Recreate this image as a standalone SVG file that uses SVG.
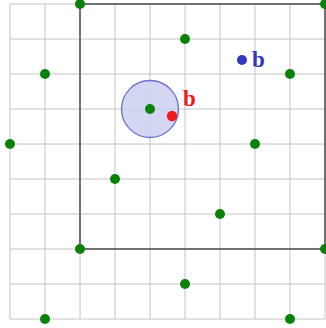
<svg xmlns="http://www.w3.org/2000/svg" width="326" height="328" viewBox="0 0 326 328">
<style>
.grid line{stroke:#c4c4c4;stroke-width:1}
.sq{fill:none;stroke:#555;stroke-width:1.6}
.g{fill:#0a820a}
.lbl{font-family:"Liberation Serif",serif;font-size:23px;font-weight:bold}
</style>
<rect width="326" height="328" fill="#fff"/>
<g class="grid">
<line x1="10" y1="4" x2="10" y2="319"/>
<line x1="45" y1="4" x2="45" y2="319"/>
<line x1="80" y1="4" x2="80" y2="319"/>
<line x1="115" y1="4" x2="115" y2="319"/>
<line x1="150" y1="4" x2="150" y2="319"/>
<line x1="185" y1="4" x2="185" y2="319"/>
<line x1="220" y1="4" x2="220" y2="319"/>
<line x1="255" y1="4" x2="255" y2="319"/>
<line x1="290" y1="4" x2="290" y2="319"/>
<line x1="325" y1="4" x2="325" y2="319"/>
<line x1="10" y1="4" x2="325" y2="4"/>
<line x1="10" y1="39" x2="325" y2="39"/>
<line x1="10" y1="74" x2="325" y2="74"/>
<line x1="10" y1="109" x2="325" y2="109"/>
<line x1="10" y1="144" x2="325" y2="144"/>
<line x1="10" y1="179" x2="325" y2="179"/>
<line x1="10" y1="214" x2="325" y2="214"/>
<line x1="10" y1="249" x2="325" y2="249"/>
<line x1="10" y1="284" x2="325" y2="284"/>
<line x1="10" y1="319" x2="325" y2="319"/>
</g>
<rect id="square" class="sq" x="80" y="4" width="245" height="245"/>
<g id="disk"><circle cx="150" cy="109" r="28.5" fill="#ccd0ee" fill-opacity="0.85" stroke="#6c6cd0" stroke-width="1.3"/></g>
<g id="points">
<circle class="g" cx="80" cy="4" r="5"/>
<circle class="g" cx="325" cy="4" r="5"/>
<circle class="g" cx="185" cy="39" r="5"/>
<circle class="g" cx="45" cy="74" r="5"/>
<circle class="g" cx="290" cy="74" r="5"/>
<circle class="g" cx="150" cy="109" r="5"/>
<circle class="g" cx="10" cy="144" r="5"/>
<circle class="g" cx="255" cy="144" r="5"/>
<circle class="g" cx="115" cy="179" r="5"/>
<circle class="g" cx="220" cy="214" r="5"/>
<circle class="g" cx="80" cy="249" r="5"/>
<circle class="g" cx="325" cy="249" r="5"/>
<circle class="g" cx="185" cy="284" r="5"/>
<circle class="g" cx="45" cy="319" r="5"/>
<circle class="g" cx="290" cy="319" r="5"/>
</g>
<g id="red-b">
<circle cx="172" cy="116" r="5.2" fill="#f01c1c"/>
<text class="lbl" x="183" y="106" fill="#f01c1c">b</text>
</g>
<g id="blue-b">
<circle cx="242" cy="60" r="5" fill="#3535c0"/>
<text class="lbl" x="252" y="67" fill="#3535c0">b</text>
</g>
</svg>
